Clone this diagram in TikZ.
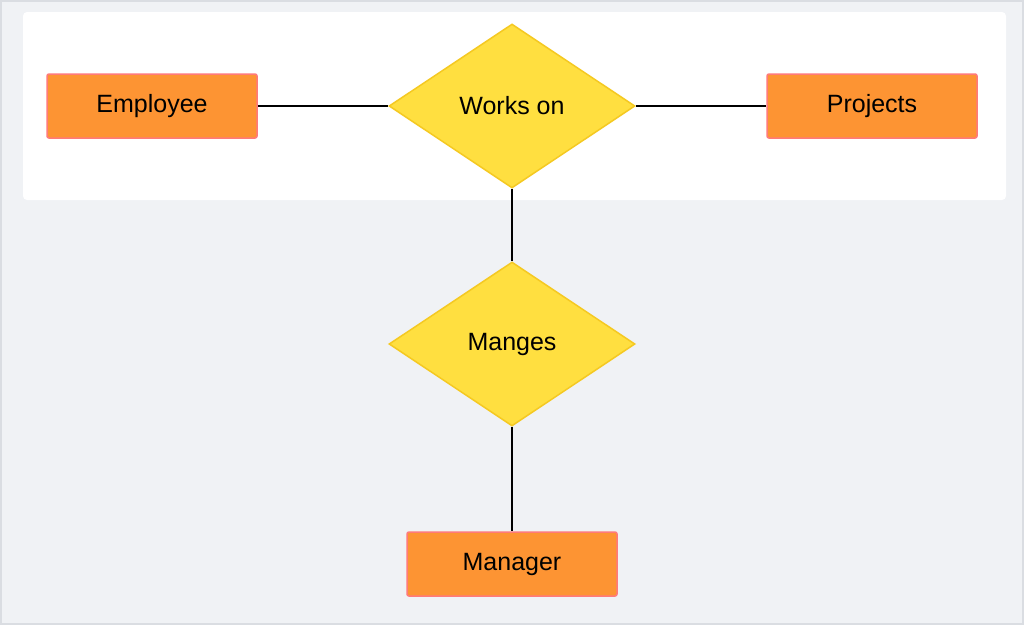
\documentclass[tikz,border=0pt]{standalone}
\usepackage{fontspec}
\setmainfont{Liberation Sans}
\usetikzlibrary{shapes.geometric}

\definecolor{pagegray}{HTML}{F0F2F5}
\definecolor{framegray}{HTML}{DADDE2}
\definecolor{entfill}{HTML}{FD9433}
\definecolor{entline}{HTML}{FF7A7A}
\definecolor{relfill}{HTML}{FFDF40}
\definecolor{relline}{HTML}{F5C922}

\tikzset{
  entity/.style={draw=entline,fill=entfill,line width=1.5pt,rounded corners=2pt,
    minimum width=210pt,minimum height=64pt,font=\fontsize{25}{29}\selectfont},
  relation/.style={diamond,draw=relline,fill=relfill,line width=1.5pt,aspect=1.5,
    inner sep=0pt,minimum width=246pt,minimum height=164pt,
    font=\fontsize{25}{29}\selectfont},
  link/.style={line width=1.8pt,black}
}

\begin{document}
\begin{tikzpicture}[x=1pt,y=-1pt]
  % page and panel
  \fill[pagegray,draw=framegray,line width=2pt] (1,1) rectangle (1023,624);
  \useasboundingbox (0,0) rectangle (1024,625);
  \fill[white,rounded corners=4pt] (23,12) rectangle (1006,200);

  % nodes
  \node[relation] (works) at (512,106) {Works on};
  \node[relation] (manges) at (512,344) {Manges};
  \node[entity] (employee) at (152,106) {Employee};
  \node[entity] (projects) at (872,106) {Projects};
  \node[entity] (manager) at (512,564) {Manager};

  % connectors
  \draw[link] (employee.east) -- (works.west);
  \draw[link] (works.east) -- (projects.west);
  \draw[link] (works.south) -- (manges.north);
  \draw[link] (manges.south) -- (manager.north);
\end{tikzpicture}
\end{document}
